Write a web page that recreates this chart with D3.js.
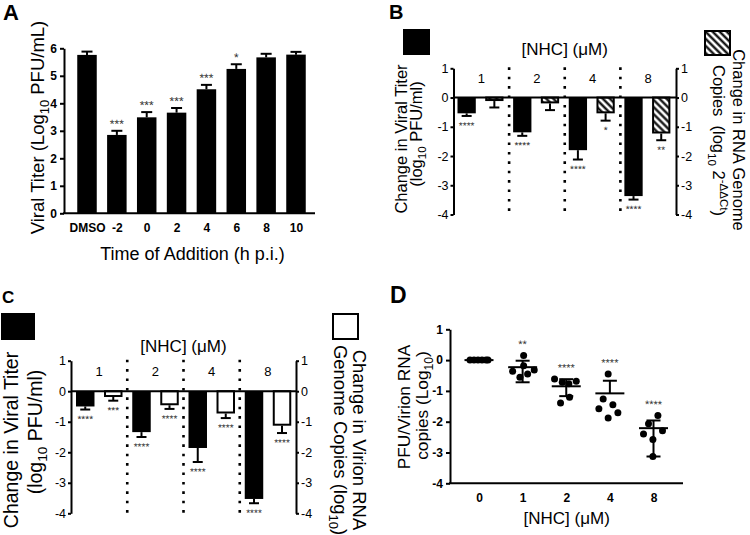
<!DOCTYPE html>
<html><head><meta charset="utf-8">
<script src="https://cdn.jsdelivr.net/npm/d3@7"></script>
<style>
body{margin:0;background:#fff;}
svg{display:block;}
text{white-space:pre;}
</style></head><body>
<svg id="c" width="750" height="535"></svg>
<script>
// ---------------- DATA ----------------
// Panel A
const aCategories = ["DMSO","-2","0","2","4","6","8","10"];
const aValues = [5.76, 2.85, 3.49, 3.66, 4.51, 5.25, 5.67, 5.77];
const aErrors = [0.12, 0.15, 0.19, 0.17, 0.16, 0.17, 0.13, 0.10];
const aStars = ["", "***", "***", "***", "***", "*", "", ""];
const aYTicks = [0,1,2,3,4,5,6];

// Panel B
const nhcConcs = ["1","2","4","8"];
const bTiter = [-0.54, -1.19, -1.80, -3.37];
const bTiterErr = [0.09, 0.12, 0.32, 0.12];
const bRNA = [-0.12, -0.20, -0.54, -1.23];
const bRNAErr = [0.22, 0.23, 0.25, 0.23];
const bTiterStars = ["****","****","****","****"];
const bRNAStars = ["","","*","**"];
const bcYTicks = [1,0,-1,-2,-3,-4];

// Panel C
const cTiter = [-0.50, -1.34, -1.86, -3.53];
const cTiterErr = [0.10, 0.16, 0.46, 0.14];
const cVirion = [-0.19, -0.46, -0.73, -1.13];
const cVirionErr = [0.12, 0.12, 0.15, 0.24];
const cTiterStars = ["****","****","****","****"];
const cVirionStars = ["***","****","****","****"];

// Panel D
const dCategories = ["0","1","2","4","8"];
const dPoints = [
  [0, 0, 0, 0, 0, 0],
  [0.15, -0.18, -0.36, -0.32, -0.56, -0.45],
  [-0.61, -0.72, -0.77, -0.69, -1.21, -1.39],
  [-0.45, -1.26, -1.45, -1.58, -1.71, -1.88],
  [-1.80, -2.07, -2.40, -2.29, -2.58, -3.13]
];
const dMeans = [0, -0.23, -0.85, -1.08, -2.21];
const dErrHigh = [0, -0.02, -0.62, -0.67, -1.96];
const dErrLow = [0, -0.72, -1.17, null, -3.13];
const dStars = ["", "**", "****", "****", "****"];
const dYTicks = [1,0,-1,-2,-3,-4];

// ---------------- LAYOUT ----------------
const FONT = '"Liberation Sans", Arial, Helvetica, sans-serif';
// horizontal scatter of the dots inside each group (px)
const dJitter = [
  [-9, -5, -1, 3, 7, 9],
  [1, 1, -10, 11.6, -2.7, 5],
  [-11.7, -4, 2.6, 10, 3.3, -5.7],
  [-1.7, -6.7, 3, -11, 8, -1.7],
  [4.4, -5, -10, 9, -0.6, -0.6]
];

const svg = d3.select("#c").attr("font-family", FONT);
const defs = svg.append("defs");
const pat = defs.append("pattern").attr("id","hatch")
  .attr("patternUnits","userSpaceOnUse").attr("width",5).attr("height",5)
  .attr("patternTransform","rotate(-45)");
pat.append("rect").attr("width",5).attr("height",5).attr("fill","#fff");
pat.append("line").attr("x1",1.5).attr("x2",1.5).attr("y1",0).attr("y2",5)
  .attr("stroke","#000").attr("stroke-width",2.2);

function addText(parent, x, y, parts, o) {
  const t = parent.append("text").attr("x",x).attr("y",y)
    .attr("font-size",o.fs).attr("text-anchor",o.anchor||"middle")
    .attr("font-weight",o.weight||"normal").attr("fill",o.fill||"#000");
  if (o.rotate) t.attr("transform",`rotate(${o.rotate},${x},${y})`);
  let shift = 0;
  (typeof parts === "string" ? [parts] : parts).forEach(p => {
    if (typeof p === "string") p = {t:p};
    const s = t.append("tspan").text(p.t);
    let target = 0;
    if (p.sub) { target = o.fs*0.28; s.attr("font-size", o.fs*0.7); }
    if (p.sup) { target = -o.fs*0.42; s.attr("font-size", o.fs*0.7); }
    if (target !== shift) { s.attr("dy", target - shift); shift = target; }
  });
  return t;
}
function styleAxis(g, fs, bold) {
  g.attr("font-family", FONT);
  g.select(".domain").attr("stroke","#000").attr("stroke-width",2);
  g.selectAll(".tick line").attr("stroke","#000").attr("stroke-width",2);
  g.selectAll(".tick text").attr("font-size",fs).attr("fill","#000")
    .attr("font-weight", bold ? "bold" : "normal");
}
function stars(parent, x, yCenter, txt, fs) {
  if (!txt) return;
  const yb = yCenter + fs*0.6;
  parent.append("text").attr("x",x).attr("y",yb)
    .attr("transform",`rotate(0.05,${x},${yb})`)
    .attr("text-anchor","middle").attr("font-size",fs).attr("fill","#333").text(txt);
}
function errBar(parent, x, y0, y1, capW) {
  parent.append("line").attr("x1",x).attr("x2",x).attr("y1",y0).attr("y2",y1)
    .attr("stroke","#000").attr("stroke-width",2);
  parent.append("line").attr("x1",x-capW/2).attr("x2",x+capW/2).attr("y1",y1).attr("y2",y1)
    .attr("stroke","#000").attr("stroke-width",2);
}

// ---------------- PANEL A ----------------
{
  const g = svg.append("g");
  const x = d3.scalePoint().domain(aCategories).range([87, 296]);
  const y = d3.scaleLinear().domain([0,6]).range([213.3, 48.3]);
  const bw = 19.5;
  aValues.forEach((v,i) => {
    const cx = x(aCategories[i]);
    g.append("rect").attr("x",cx-bw/2).attr("y",y(v)).attr("width",bw)
      .attr("height",y(0)-y(v)).attr("fill","#000");
    errBar(g, cx, y(v), y(v+aErrors[i]), 11);
    stars(g, cx, y(v+aErrors[i]) - 10, aStars[i], 12);
  });
  const ya = g.append("g").attr("transform","translate(64,0)")
    .call(d3.axisLeft(y).tickValues(aYTicks).tickSize(4).tickSizeOuter(0).tickPadding(3).tickFormat(d=>String(d)));
  styleAxis(ya, 12, true);
  g.append("line").attr("x1",63).attr("x2",315).attr("y1",y(0)).attr("y2",y(0))
    .attr("stroke","#000").attr("stroke-width",2);
  const xa = g.append("g").attr("transform",`translate(0,${y(0)})`)
    .call(d3.axisBottom(x).tickSize(0).tickPadding(10));
  xa.select(".domain").remove();
  styleAxis(xa, 12, true);
  addText(g, 44, 127.5, ["Viral Titer (Log",{t:"10",sub:true}," PFU/mL)"], {fs:18.5, rotate:-90});
  addText(g, 192.5, 260, "Time of Addition (h p.i.)", {fs:18});
  addText(g, 3, 20, "A", {fs:22, weight:"bold", anchor:"start"});
}

// ---------- PANELS B & C (shared builder) ----------
function dualPanel(cfg) {
  const g = svg.append("g");
  const x = d3.scaleBand().domain(nhcConcs).range([cfg.left, cfg.right]);
  const sub = d3.scaleBand().domain([0,1]).range(cfg.subRange).paddingInner(0.34);
  const y = d3.scaleLinear().domain([1,-4]).range([cfg.yTop, cfg.yBot]);
  const bw = sub.bandwidth();
  nhcConcs.forEach((c,i) => {
    const x0 = x(c) + sub(0), x1 = x(c) + sub(1);
    g.append("rect").attr("x",x0).attr("y",y(0)).attr("width",bw)
      .attr("height",y(cfg.s1[i])-y(0)).attr("fill","#000");
    errBar(g, x0+bw/2, y(cfg.s1[i]), y(cfg.s1[i]-cfg.e1[i]), 10);
    stars(g, x0+bw/2, y(cfg.s1[i]-cfg.e1[i]) + 7, cfg.st1[i], 10);
    g.append("rect").attr("x",x1+1).attr("y",y(0)).attr("width",bw-2)
      .attr("height",y(cfg.s2[i])-y(0)-1).attr("fill",cfg.fill2)
      .attr("stroke","#000").attr("stroke-width",2);
    errBar(g, x1+bw/2, y(cfg.s2[i]), y(cfg.s2[i]-cfg.e2[i]), 10);
    stars(g, x1+bw/2, y(cfg.s2[i]-cfg.e2[i]) + 7, cfg.st2[i], 10);
    if (i > 0) {
      g.append("line").attr("x1",x(c)).attr("x2",x(c)).attr("y1",cfg.yTop-1).attr("y2",cfg.yBot+1)
        .attr("stroke","#000").attr("stroke-width",2.6).attr("stroke-dasharray","2.6 6.8");
    }
    g.append("text").attr("x",x(c)+x.step()/2).attr("y",cfg.catY).attr("text-anchor","middle")
      .attr("font-size",13).text(c);
  });
  g.append("line").attr("x1",cfg.left).attr("x2",cfg.right).attr("y1",y(0)).attr("y2",y(0))
    .attr("stroke","#000").attr("stroke-width",2);
  const la = g.append("g").attr("transform",`translate(${cfg.left},0)`)
    .call(d3.axisLeft(y).tickValues(bcYTicks).tickSize(3).tickSizeOuter(0).tickPadding(2).tickFormat(d=>String(d)));
  styleAxis(la, 12.5, false);
  const ra = g.append("g").attr("transform",`translate(${cfg.right},0)`)
    .call(d3.axisRight(y).tickValues(bcYTicks).tickSize(3).tickSizeOuter(0).tickPadding(2).tickFormat(d=>String(d)));
  styleAxis(ra, 12.5, false);
  addText(g, (cfg.left+cfg.right)/2, cfg.titleY, ["[NHC] (",{t:"\u03bcM"},")"], {fs:17});
  return g;
}

// ---------------- PANEL B ----------------
{
  const g = dualPanel({left:453.5, right:676, subRange:[4,50], yTop:68.3, yBot:214.5,
    s1:bTiter, e1:bTiterErr, st1:bTiterStars, s2:bRNA, e2:bRNAErr, st2:bRNAStars,
    fill2:"url(#hatch)", catY:83, titleY:55});
  g.append("rect").attr("x",403).attr("y",29).attr("width",27).attr("height",26).attr("fill","#000");
  g.append("rect").attr("x",705).attr("y",31).attr("width",25).attr("height",24)
    .attr("fill","url(#hatch)").attr("stroke","#000").attr("stroke-width",2);
  addText(g, 406.5, 139, "Change in Viral Titer", {fs:16.5, rotate:-90});
  addText(g, 421.5, 134, ["(log",{t:"10",sub:true}," PFU/ml)"], {fs:16.5, rotate:-90});
  addText(g, 733, 140, "Change in RNA Genome", {fs:16.5, rotate:90});
  addText(g, 713, 140.5, ["Copies  (log",{t:"10",sub:true}," 2",{t:"-\u0394\u0394Ct",sup:true},")"], {fs:16.5, rotate:90});
  addText(g, 389, 19, "B", {fs:20, weight:"bold", anchor:"start"});
}

// ---------------- PANEL C ----------------
{
  const g = dualPanel({left:71, right:296, subRange:[5,51.5], yTop:360.7, yBot:513.3,
    s1:cTiter, e1:cTiterErr, st1:cTiterStars, s2:cVirion, e2:cVirionErr, st2:cVirionStars,
    fill2:"#fff", catY:375.5, titleY:352});
  g.append("rect").attr("x",1).attr("y",313).attr("width",34).attr("height",27).attr("fill","#000");
  g.append("rect").attr("x",333).attr("y",314).attr("width",25).attr("height",25)
    .attr("fill","#fff").attr("stroke","#000").attr("stroke-width",2);
  addText(g, 17.5, 440, "Change in Viral Titer", {fs:19.5, rotate:-90});
  addText(g, 41.5, 432, ["(log",{t:"10",sub:true}," PFU/ml)"], {fs:19.5, rotate:-90});
  addText(g, 352.5, 440, "Change in Virion RNA", {fs:18.5, rotate:90});
  addText(g, 334, 440, ["Genome Copies (log",{t:"10",sub:true},")"], {fs:18.5, rotate:90});
  addText(g, 2, 303, "C", {fs:17, weight:"bold", anchor:"start"});
}

// ---------------- PANEL D ----------------
{
  const g = svg.append("g");
  const x = d3.scalePoint().domain(dCategories).range([479, 653.5]);
  const y = d3.scaleLinear().domain([1,-4]).range([329.3, 483.3]);
  dCategories.forEach((c,i) => {
    const cx = x(c);
    dPoints[i].forEach((v,j) => {
      g.append("circle").attr("cx",cx+dJitter[i][j]).attr("cy",y(v)).attr("r",3.5).attr("fill","#000");
    });
    g.append("line").attr("x1",cx-14.5).attr("x2",cx+14.5).attr("y1",y(dMeans[i])).attr("y2",y(dMeans[i]))
      .attr("stroke","#000").attr("stroke-width",2);
    if (dErrHigh[i] !== dMeans[i]) errBar(g, cx, y(dMeans[i]), y(dErrHigh[i]), 14);
    if (dErrLow[i] !== null && dErrLow[i] !== dMeans[i]) errBar(g, cx, y(dMeans[i]), y(dErrLow[i]), 14);
    const top = Math.max(d3.max(dPoints[i]), dErrHigh[i]);
    stars(g, cx, y(top) - 14, dStars[i], 11);
  });
  const ya = g.append("g").attr("transform","translate(450,0)")
    .call(d3.axisLeft(y).tickValues(dYTicks).tickSize(4).tickSizeOuter(0).tickPadding(3).tickFormat(d=>String(d)));
  styleAxis(ya, 12, true);
  g.append("line").attr("x1",449).attr("x2",683).attr("y1",y(-4)).attr("y2",y(-4))
    .attr("stroke","#000").attr("stroke-width",2);
  const xa = g.append("g").attr("transform",`translate(0,${y(-4)})`)
    .call(d3.axisBottom(x).tickSize(0).tickPadding(10));
  xa.select(".domain").remove();
  styleAxis(xa, 12, true);
  addText(g, 410, 407, "PFU/Virion RNA", {fs:17.3, rotate:-90});
  addText(g, 428, 405.5, ["copies (Log",{t:"10",sub:true},")"], {fs:17.3, rotate:-90});
  addText(g, 566.7, 524, ["[NHC] (",{t:"\u03bcM"},")"], {fs:17});
  addText(g, 390, 303, "D", {fs:23, weight:"bold", anchor:"start"});
}
</script>
</body></html>
